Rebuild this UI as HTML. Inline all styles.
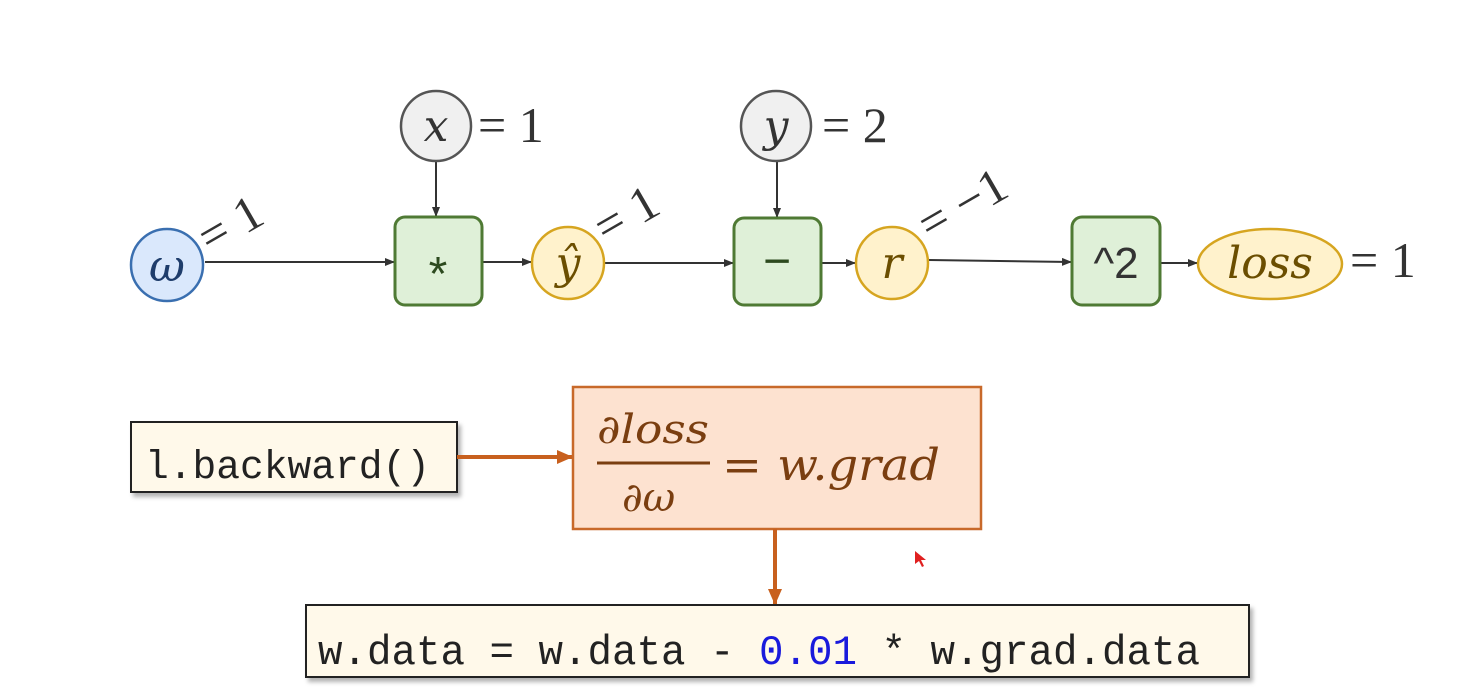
<!DOCTYPE html>
<html><head><style>body{margin:0;background:#fff}svg{display:block}</style></head><body>
<svg width="1483" height="693" viewBox="0 0 1483 693" xmlns="http://www.w3.org/2000/svg">
<defs>
<marker id="a" markerWidth="10" markerHeight="8" refX="9" refY="4" orient="auto" markerUnits="userSpaceOnUse"><path d="M0,0 L10,4 L0,8 z" fill="#333"/></marker>
<marker id="o" markerWidth="16" markerHeight="14" refX="15" refY="7" orient="auto" markerUnits="userSpaceOnUse"><path d="M0,0 L16,7 L0,14 z" fill="#c8601e"/></marker>
<filter id="s" x="-5%" y="-10%" width="115%" height="130%"><feDropShadow dx="3" dy="4" stdDeviation="2" flood-color="#000" flood-opacity="0.3"/></filter>
</defs>
<g stroke="#333" stroke-width="2" fill="none" marker-end="url(#a)">
<line x1="205" y1="262" x2="394" y2="262"/>
<line x1="483" y1="262" x2="531" y2="262"/>
<line x1="605" y1="263" x2="733" y2="263"/>
<line x1="822" y1="263" x2="855" y2="263"/>
<line x1="929" y1="260" x2="1071" y2="262"/>
<line x1="1161" y1="263" x2="1197" y2="263"/>
<line x1="436" y1="162" x2="436" y2="216"/>
<line x1="777" y1="162" x2="777" y2="217"/>
</g>
<g font-family="'DejaVu Serif','Liberation Serif',serif" font-style="italic" text-anchor="middle">
<circle cx="167" cy="265" r="36" fill="#dae8fc" stroke="#3a6fb0" stroke-width="2.5"/>
<text x="167" y="281" font-size="44" fill="#1f3d6b">ω</text>
<circle cx="436" cy="126" r="35" fill="#f0f0f0" stroke="#555" stroke-width="2.5"/>
<text x="436" y="141" font-size="44" fill="#333">x</text>
<circle cx="776" cy="126" r="35" fill="#f0f0f0" stroke="#555" stroke-width="2.5"/>
<text x="776" y="141" font-size="44" fill="#333">y</text>
<circle cx="568" cy="263" r="36" fill="#fff2cc" stroke="#d6a520" stroke-width="2.5"/>
<text x="568" y="278" font-size="44" fill="#6b4e00">ŷ</text>
<circle cx="892" cy="263" r="36" fill="#fff2cc" stroke="#d6a520" stroke-width="2.5"/>
<text x="892" y="278" font-size="44" fill="#6b4e00">r</text>
<ellipse cx="1270" cy="264" rx="72" ry="35" fill="#fff2cc" stroke="#d6a520" stroke-width="2.5"/>
<text x="1270" y="278" font-size="44" fill="#6b4e00">loss</text>
</g>
<g fill="#dff0d8" stroke="#4f7a34" stroke-width="3">
<rect x="395" y="217" width="87" height="88" rx="10"/>
<rect x="734" y="218" width="87" height="87" rx="10"/>
<rect x="1072" y="217" width="88" height="88" rx="10"/>
</g>
<g font-family="'Liberation Sans',sans-serif" text-anchor="middle" fill="#2d4a1f">
<text x="438" y="290" font-size="48">*</text>
<text x="777" y="277" font-size="48">−</text>
<text x="1116" y="278" font-size="44" fill="#333">^2</text>
</g>
<g font-family="'Liberation Serif',serif" font-size="50" fill="#333">
<text x="478" y="142">= 1</text>
<text x="822" y="142">= 2</text>
<text x="1350" y="277">= 1</text>
<text transform="translate(210,255) rotate(-30)">= 1</text>
<text transform="translate(606,245) rotate(-30)">= 1</text>
<text transform="translate(930,242) rotate(-30)">= −1</text>
</g>
<rect x="131" y="422" width="326" height="70" fill="#fff9ea" stroke="#222" stroke-width="2" filter="url(#s)"/>
<text x="145" y="478" font-family="'Liberation Mono','Noto Sans CJK SC',monospace" font-size="40" fill="#222" textLength="285" lengthAdjust="spacingAndGlyphs">l.backward()</text>
<line x1="457" y1="457" x2="572" y2="457" stroke="#c8601e" stroke-width="4" marker-end="url(#o)"/>
<rect x="573" y="387" width="408" height="142" fill="#fde2d0" stroke="#c8692a" stroke-width="2.5"/>
<g font-family="'DejaVu Serif','Liberation Serif',serif" font-style="italic" fill="#7a3e10">
<text x="597" y="443" font-size="40" textLength="112" lengthAdjust="spacingAndGlyphs">∂loss</text>
<line x1="597" y1="463" x2="710" y2="463" stroke="#7a3e10" stroke-width="3"/>
<text x="622" y="511" font-size="40">∂ω</text>
<text x="722" y="480" font-size="44" textLength="218" lengthAdjust="spacingAndGlyphs">= w.grad</text>
</g>
<line x1="775" y1="529" x2="775" y2="604" stroke="#c8601e" stroke-width="4" marker-end="url(#o)"/>
<rect x="306" y="605" width="943" height="72" fill="#fff9ea" stroke="#222" stroke-width="2" filter="url(#s)"/>
<text x="318" y="664" font-family="'Liberation Mono','Noto Sans CJK SC',monospace" font-size="42" fill="#222" textLength="882" lengthAdjust="spacingAndGlyphs">w.data = w.data - <tspan fill="#1a1adc">0.01</tspan> * w.grad.data</text>
<path d="M915,551 L915,564 L919,561 L922,567 L924,566 L921,560 L926,560 z" fill="#e02020"/>
</svg>
</body></html>
